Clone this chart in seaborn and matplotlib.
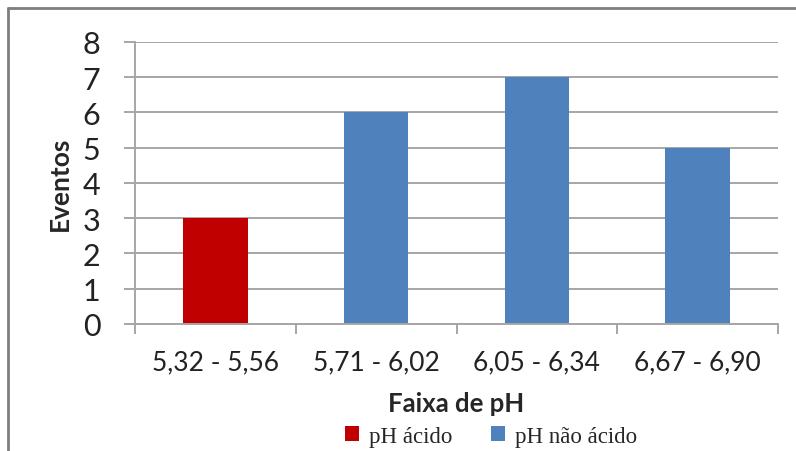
import matplotlib
matplotlib.use("Agg")
import matplotlib.pyplot as plt
from matplotlib.lines import Line2D
from matplotlib.patches import Patch
import seaborn as sns
import pandas as pd

# Event counts per pH range
faixas = ["5,32 - 5,56", "5,71 - 6,02", "6,05 - 6,34", "6,67 - 6,90"]
eventos = [3, 6, 7, 5]
grupos = ["pH ácido", "pH não ácido", "pH não ácido", "pH não ácido"]
cores = {"pH ácido": "#C00000", "pH não ácido": "#4F81BD"}

df = pd.DataFrame({"Faixa de pH": faixas, "Eventos": eventos, "Grupo": grupos})

sns.set_style("white")
plt.rcParams["font.family"] = ["Lato", "DejaVu Sans"]

fig = plt.figure(figsize=(7.96, 4.52), dpi=100)
ax = fig.add_axes([0.1696, 0.281, 0.8078, 0.6239])

sns.barplot(data=df, x="Faixa de pH", y="Eventos", hue="Grupo", palette=cores,
            dodge=False, width=0.4, legend=False, ax=ax, saturation=1,
            edgecolor="none", linewidth=0)

ax.set_ylim(0, 8)
ax.set_xlim(-0.5, 3.5)
ax.set_yticks(range(0, 9))
ax.yaxis.grid(True, color="#A6A6A6", linewidth=1.4)
ax.set_axisbelow(True)

for side in ["top", "right"]:
    ax.spines[side].set_visible(False)
for side in ["left", "bottom"]:
    ax.spines[side].set_color("#A6A6A6")
    ax.spines[side].set_linewidth(1.4)

ax.tick_params(axis="y", which="major", length=8, width=1.4, color="#A6A6A6",
               labelsize=22, labelcolor="#222222", pad=17, left=True)
ax.tick_params(axis="x", which="major", length=0, labelsize=19,
               labelcolor="#222222", pad=18)
ax.set_xticks([-0.5, 0.5, 1.5, 2.5, 3.5], minor=True)
ax.tick_params(axis="x", which="minor", length=7, width=1.4, color="#A6A6A6",
               bottom=True)

ax.set_ylabel("Eventos", fontsize=19, fontweight="bold", labelpad=8)
ax.set_xlabel("Faixa de pH", fontsize=18.5, fontweight="bold", labelpad=12)

# Legend underneath the axis title
handles = [Patch(facecolor=cores[k], edgecolor="none") for k in cores]
fig.legend(handles, list(cores.keys()), loc="center", bbox_to_anchor=(0.617, 0.033),
           ncol=2, frameon=False, prop={"family": "Liberation Serif", "size": 16.5},
           handlelength=0.6, handleheight=0.6, handletextpad=0.45,
           columnspacing=1.7)

# Outer frame lines
fig.add_artist(Line2D([8 / 796, 8 / 796], [0, 1 - 9 / 452], transform=fig.transFigure,
                      color="#7F7F7F", linewidth=2))
fig.add_artist(Line2D([8 / 796, 1], [1 - 9 / 452, 1 - 9 / 452], transform=fig.transFigure,
                      color="#7F7F7F", linewidth=2))

fig.savefig("out.png", dpi=100, facecolor="white")
